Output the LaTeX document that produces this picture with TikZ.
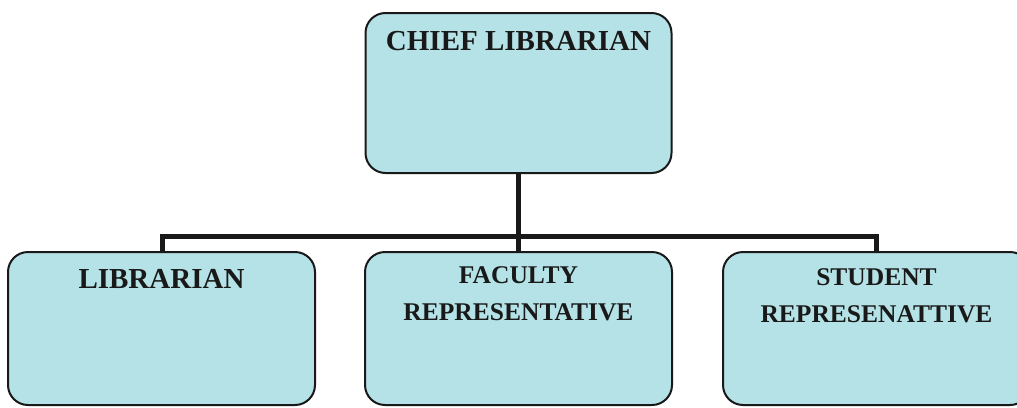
\documentclass[tikz,border=0pt]{standalone}
\usepackage{fontspec}
\setmainfont{Liberation Serif}
\definecolor{boxfill}{RGB}{180,226,230}
\begin{document}
\begin{tikzpicture}[x=1pt,y=-1pt,
  box/.style={draw=black!90, line width=2pt, fill=boxfill, rounded corners=20pt, inner sep=0pt},
  lbl/.style={font=\bfseries\fontsize{29}{37}\selectfont, text=black!90, align=center, inner sep=0pt, anchor=base},
  small/.style={font=\bfseries\fontsize{25.5}{37}\selectfont},
  conn/.style={line width=5pt, draw=black!90}]
\clip (0,0) rectangle (1017,407);
\fill[white] (0,0) rectangle (1017,407);
% boxes
\node[box, minimum width=306pt, minimum height=160pt] (chief) at (518.5,93) {};
\node[box, minimum width=307pt, minimum height=153pt] (lib) at (161.5,328.5) {};
\node[box, minimum width=307pt, minimum height=153pt] (fac) at (518.5,328.5) {};
\node[box, minimum width=307pt, minimum height=153pt] (stu) at (876.5,328.5) {};
% connectors
\coordinate (j) at ([yshift=-62pt]chief.south);
\coordinate (jl) at (162,0 |- j);
\coordinate (jr) at (876,0 |- j);
\draw[conn] (chief.south) -- (j);
\draw[conn, line cap=rect] (jl) -- (jr);
\draw[conn] (jl) -- (jl |- lib.north);
\draw[conn] (j) -- (fac.north);
\draw[conn] (jr) -- (jr |- stu.north);
% texts
\node[lbl] (tchief) at (518.5,50) {CHIEF LIBRARIAN};
\node[lbl] (tlib) at (161.5,288) {LIBRARIAN};
\node[lbl, small] (tfac) at (518.5,320) {FACULTY\\REPRESENTATIVE};
\node[lbl, small] (tstu) at (876.5,322) {STUDENT\\REPRESENATTIVE};
\end{tikzpicture}
\end{document}
